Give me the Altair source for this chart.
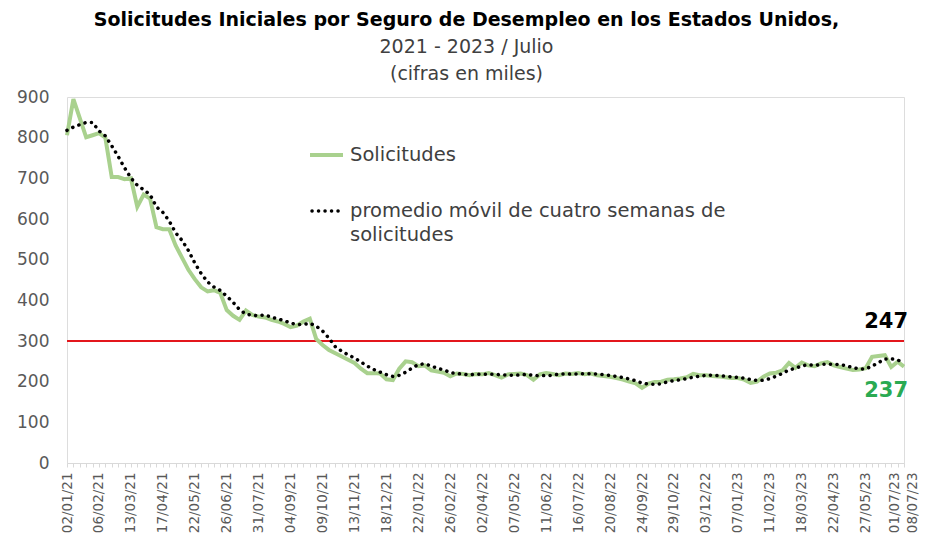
import altair as alt
import pandas as pd

START_DATE = "2021-01-02"

CLAIMS = [
    806, 895, 848, 801, 806, 811, 800, 703, 703, 698,
    700, 630, 660, 650, 580, 575, 575, 535, 505, 475,
    452, 432, 422, 425, 418, 376, 362, 352, 375, 364,
    360, 358, 352, 348, 342, 334, 338, 348, 355, 305,
    290, 278, 270, 262, 254, 246, 232, 221, 221, 220,
    206, 204, 232, 250, 248, 238, 240, 228, 225, 222,
    213, 220, 219, 216, 219, 218, 221, 216, 210, 218,
    219, 220, 216, 205, 218, 221, 219, 216, 220, 219,
    221, 218, 220, 216, 214, 212, 209, 205, 200, 196,
    185, 195, 199, 200, 205, 206, 208, 211, 219, 216,
    216, 214, 213, 211, 209, 209, 205, 197, 200, 212,
    220, 222, 228, 246, 234, 247, 240, 238, 245, 248,
    240, 236, 232, 229, 230, 233, 261, 263, 265, 236,
    249, 237,
]

MOVING_AVG = [
    818, 826, 832, 837.5, 837.5, 816.5, 804.5, 780, 754.25, 726,
    701, 682.75, 672, 660, 630, 616.25, 595, 566.25, 547.5, 522.5,
    491.75, 466, 445.25, 432.75, 424.25, 410.25, 395.25, 377, 366.25, 363.25,
    362.75, 364.25, 358.5, 354.5, 350, 344, 340.5, 340.5, 343.75, 336.5,
    324.5, 307, 285.75, 275, 266, 258, 248.5, 238.25, 230, 223.5,
    217, 212.75, 215.5, 223, 233.5, 242, 244, 238.5, 232.75, 228.75,
    222, 220, 218.5, 217, 218.5, 218, 218.5, 218.5, 216.25, 216.25,
    215.75, 216.75, 218.25, 215, 214.75, 215, 215.75, 218.5, 219, 218.5,
    219, 219.5, 219.5, 218.75, 217, 215.5, 212.75, 210, 206.5, 202.5,
    196.5, 194, 193.75, 194.75, 199.75, 202.5, 204.75, 207.5, 211, 213.5,
    215.5, 216.25, 214.75, 213.5, 211.75, 210.5, 208.5, 205, 202.75, 203.5,
    207.25, 213.5, 220.5, 229, 232.5, 238.75, 241.75, 239.75, 242.5, 242.75,
    242.75, 242.25, 239, 234.25, 231.75, 231, 238.25, 246.75, 255.5, 256.25,
    253.25, 246.75,
]

TICK_LABELS = [
    "02/01/21", "06/02/21", "13/03/21", "17/04/21", "22/05/21", "26/06/21",
    "31/07/21", "04/09/21", "09/10/21", "13/11/21", "18/12/21", "22/01/22",
    "26/02/22", "02/04/22", "07/05/22", "11/06/22", "16/07/22", "20/08/22",
    "24/09/22", "29/10/22", "03/12/22", "07/01/23", "11/02/23", "18/03/23",
    "22/04/23", "27/05/23", "01/07/23", "08/07/23",
]

Y_TICKS = [0, 100, 200, 300, 400, 500, 600, 700, 800, 900]
THRESHOLD = 300

SERIES_NAMES = ["Solicitudes", "promedio móvil de cuatro semanas de", "solicitudes"]

FONT = "DejaVu Sans"
GREEN = "#A9D18E"
RED = "#E3161C"
DARK_GREEN = "#2AAA52"
TEXT = "#404040"

dates = pd.date_range(START_DATE, periods=len(CLAIMS), freq="7D")
week_labels = [d.strftime("%d/%m/%y") for d in dates]

df = pd.DataFrame({"semana": week_labels, "solicitudes": CLAIMS, "promedio": MOVING_AVG})

shown = ",".join("'" + t + "'" for t in TICK_LABELS)
label_expr = f"indexof([{shown}], datum.value) >= 0 ? datum.label : ''"

x_enc = alt.X(
    "semana:O",
    sort=week_labels,
    scale=alt.Scale(type="point", padding=0),
    axis=alt.Axis(
        title=None,
        labelAngle=-90,
        labelExpr=label_expr,
        labelOverlap=False,
        labelFontSize=13.5,
        labelColor="#595959",
        labelPadding=5,
        labelOffset={
            "condition": [
                {"test": f"datum.value == '{TICK_LABELS[-1]}'", "value": 8},
                {"test": f"datum.value == '{TICK_LABELS[-2]}'", "value": -3},
            ],
            "value": 0,
        },
        tickSize=4,
        tickColor="#D9D9D9",
        domainColor="#D9D9D9",
        labelFont=FONT,
    ),
)

y_scale = alt.Scale(domain=[0, 900], nice=False, zero=True)
y_axis = alt.Axis(
    title=None,
    values=Y_TICKS,
    domain=False,
    ticks=False,
    grid=False,
    labelFontSize=17,
    labelColor="#595959",
    labelPadding=18,
    labelFont=FONT,
)

base = alt.Chart(df)

claims_line = base.mark_line(color=GREEN, strokeWidth=4).encode(
    x=x_enc, y=alt.Y("solicitudes:Q", scale=y_scale, axis=y_axis)
)

ma_line = base.mark_line(
    color="black", strokeWidth=3.5, strokeDash=[0.1, 6.4], strokeCap="round"
).encode(x=x_enc, y=alt.Y("promedio:Q", scale=y_scale))

threshold = alt.Chart(pd.DataFrame({"v": [THRESHOLD]})).mark_rule(
    color=RED, strokeWidth=2.2
).encode(y=alt.Y("v:Q", scale=y_scale))

ann_ma = alt.Chart(
    pd.DataFrame({"semana": [week_labels[-1]], "v": [MOVING_AVG[-1]], "t": [str(round(MOVING_AVG[-1]))]})
).mark_text(
    font=FONT, fontSize=21, fontWeight="bold", color="black", align="right", dx=4, dy=-41
).encode(x=alt.X("semana:O", sort=week_labels), y=alt.Y("v:Q", scale=y_scale), text="t:N")

ann_claims = alt.Chart(
    pd.DataFrame({"semana": [week_labels[-1]], "v": [CLAIMS[-1]], "t": [str(CLAIMS[-1])]})
).mark_text(
    font=FONT, fontSize=21, fontWeight="bold", color=DARK_GREEN, align="right", dx=4, dy=24
).encode(x=alt.X("semana:O", sort=week_labels), y=alt.Y("v:Q", scale=y_scale), text="t:N")

# legend drawn inside the plot area
LEG_FS = 19.5
leg1 = alt.Chart(pd.DataFrame({"n": [SERIES_NAMES[0]]}))
leg_line1 = leg1.mark_rule(color=GREEN, strokeWidth=4).encode(
    x=alt.value(243), x2=alt.value(276), y=alt.value(58)
)
leg_text1 = leg1.mark_text(font=FONT, fontSize=LEG_FS, color=TEXT, align="left", baseline="middle").encode(
    x=alt.value(283), y=alt.value(58), text="n:N"
)
leg2 = alt.Chart(pd.DataFrame({"n": [SERIES_NAMES[1]]}))
leg_line2 = leg2.mark_rule(
    color="black", strokeWidth=3.5, strokeDash=[0.1, 6.4], strokeCap="round"
).encode(x=alt.value(245), x2=alt.value(276), y=alt.value(114))
leg_text2 = leg2.mark_text(font=FONT, fontSize=LEG_FS, color=TEXT, align="left", baseline="middle").encode(
    x=alt.value(283), y=alt.value(114), text="n:N"
)
leg3 = alt.Chart(pd.DataFrame({"n": [SERIES_NAMES[2]]}))
leg_text3 = leg3.mark_text(font=FONT, fontSize=LEG_FS, color=TEXT, align="left", baseline="middle").encode(
    x=alt.value(283), y=alt.value(138), text="n:N"
)

chart = alt.layer(
    threshold, claims_line, ma_line, ann_ma, ann_claims,
    leg_line1, leg_text1, leg_line2, leg_text2, leg_text3,
).properties(
    width=837,
    height=366,
    title=alt.TitleParams(
        text="Solicitudes Iniciales por Seguro de Desempleo en los Estados Unidos,",
        subtitle=["2021 - 2023 / Julio", "(cifras en miles)"],
        font=FONT,
        fontSize=19,
        fontWeight="bold",
        color="black",
        subtitleFont=FONT,
        subtitleFontSize=19,
        subtitleColor=TEXT,
        subtitleLineHeight=27,
        subtitlePadding=8,
        anchor="middle",
        dx=-19,
        offset=4,
    ),
    autosize=alt.AutoSizeParams(type="none"),
    padding={"left": 59, "top": 89, "right": 15, "bottom": 75},
).configure_view(stroke=None).configure(font=FONT)

chart.save("out.html", embed_options={"renderer": "svg", "actions": False})
